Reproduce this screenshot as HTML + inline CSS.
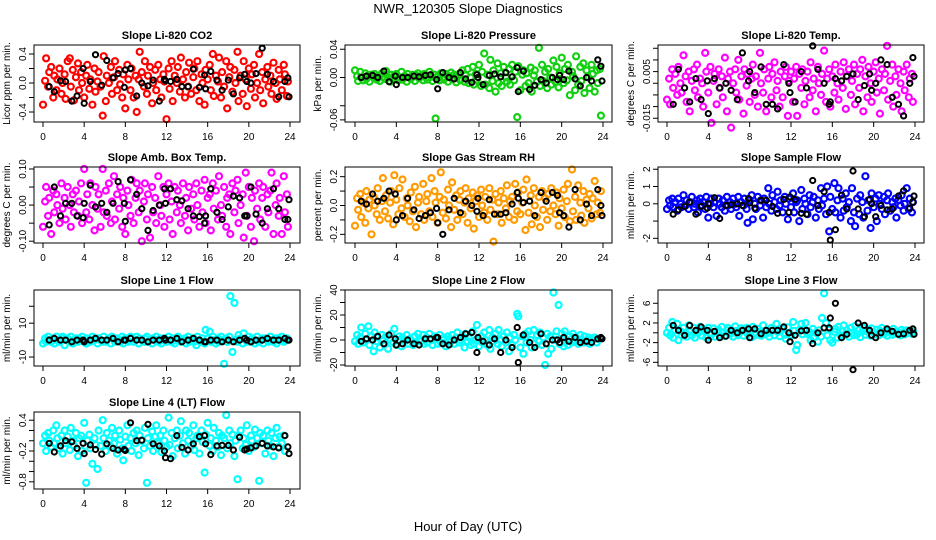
<!DOCTYPE html>
<html><head><meta charset="utf-8"><style>
body{margin:0;background:#fff;}
svg{display:block;font-family:"Liberation Sans",sans-serif;}
</style></head><body>
<svg id="c" width="936" height="540" viewBox="0 0 936 540">
<text x="468" y="13" text-anchor="middle" font-size="13">NWR_120305  Slope Diagnostics</text>
<text x="468" y="531" text-anchor="middle" font-size="13">Hour of Day (UTC)</text>
</svg>
<script>
const hours=[0.0,0.2,0.3,0.5,0.6,0.8,1.0,1.1,1.3,1.4,1.6,1.8,1.9,2.1,2.2,2.4,2.6,2.7,2.9,3.0,3.2,3.4,3.5,3.7,3.8,4.0,4.2,4.3,4.5,4.6,4.8,5.0,5.1,5.3,5.4,5.6,5.8,5.9,6.1,6.2,6.4,6.6,6.7,6.9,7.0,7.2,7.4,7.5,7.7,7.8,8.0,8.2,8.3,8.5,8.6,8.8,9.0,9.1,9.3,9.4,9.6,9.8,9.9,10.1,10.2,10.4,10.6,10.7,10.9,11.0,11.2,11.4,11.5,11.7,11.8,12.0,12.2,12.3,12.5,12.6,12.8,13.0,13.1,13.3,13.4,13.6,13.8,13.9,14.1,14.2,14.4,14.6,14.7,14.9,15.0,15.2,15.4,15.5,15.7,15.8,16.0,16.2,16.3,16.5,16.6,16.8,17.0,17.1,17.3,17.4,17.6,17.8,17.9,18.1,18.2,18.4,18.6,18.7,18.9,19.0,19.2,19.4,19.5,19.7,19.8,20.0,20.2,20.3,20.5,20.6,20.8,21.0,21.1,21.3,21.4,21.6,21.8,21.9,22.1,22.2,22.4,22.6,22.7,22.9,23.0,23.2,23.4,23.5,23.7,23.8];
const refHours=[0.6,1.1,1.7,2.2,2.8,3.3,3.9,4.0,4.6,5.1,5.7,6.2,6.8,7.3,7.9,8.0,8.5,9.1,9.6,10.2,10.7,11.3,11.8,11.9,12.4,13.0,13.5,14.1,14.6,15.2,15.7,15.8,16.3,16.9,17.4,18.0,18.5,19.1,19.6,19.8,20.2,20.7,21.3,21.8,22.4,22.9,23.5,23.8,23.9];
const xTicks=[0,4,8,12,16,20,24];

const co2=[-0.3,0.03,0.34,-0.05,0.15,0.22,-0.2,0.1,-0.1,0.05,0.2,-0.15,0.0,0.12,-0.22,0.3,0.34,-0.05,0.18,-0.24,0.08,0.27,-0.1,0.15,0.0,-0.2,0.1,0.25,-0.08,0.05,-0.3,0.2,-0.12,0.02,0.15,-0.05,-0.45,0.37,-0.25,0.1,0.0,0.22,-0.15,0.08,0.3,-0.1,0.18,-0.02,-0.2,0.12,-0.35,0.25,0.05,-0.1,0.2,-0.2,0.1,-0.4,0.05,0.43,0.15,-0.05,0.3,-0.15,0.1,0.22,-0.28,0.0,0.18,-0.1,0.25,0.05,-0.2,0.12,0.02,-0.5,0.2,-0.08,0.3,-0.25,0.1,0.0,0.22,-0.12,0.35,0.05,-0.2,0.15,-0.05,0.28,-0.15,0.08,0.2,-0.1,0.3,-0.25,0.12,0.0,-0.3,0.18,0.05,0.25,-0.1,0.4,-0.18,0.1,0.02,0.35,-0.2,0.15,-0.05,0.3,-0.35,0.08,0.22,-0.12,0.18,0.0,0.43,-0.25,0.1,-0.15,0.3,0.05,-0.32,0.2,-0.08,0.12,0.25,-0.2,0.0,0.4,-0.1,0.15,-0.28,0.05,0.22,-0.05,0.1,-0.15,0.28,0.0,-0.22,0.18,0.05,-0.1,0.25,0.12,-0.18,0.02];
const co2Ref=[-0.05,-0.12,0.03,0.02,-0.25,-0.18,0.2,-0.28,0.02,0.39,-0.03,0.31,0.07,0.13,-0.06,0.18,0.2,-0.18,0.0,-0.04,0.04,-0.25,0.05,0.03,0.02,0.05,-0.05,-0.05,0.19,-0.06,0.11,-0.08,0.16,0.04,-0.1,0.04,-0.15,0.07,0.12,0.02,0.0,0.13,0.48,0.12,0.02,-0.19,0.02,0.07,-0.19];
const pres=[0.01,0.002,-0.005,0.008,0.0,-0.004,0.006,-0.002,0.003,-0.006,0.004,0.0,0.005,-0.003,0.002,-0.005,0.006,0.001,-0.002,0.009,0.0,-0.006,0.004,-0.002,0.003,0.005,-0.004,0.0,0.008,-0.003,0.002,-0.006,0.005,0.0,-0.002,0.004,-0.005,0.003,0.006,-0.001,0.002,-0.004,0.005,0.0,-0.003,0.008,0.001,-0.005,0.004,-0.058,0.002,-0.004,0.006,0.0,-0.003,0.005,-0.006,0.002,0.007,-0.002,0.004,-0.007,0.001,0.005,-0.004,0.01,-0.006,0.003,0.012,-0.008,0.0,0.015,-0.01,0.005,-0.003,0.018,-0.012,0.008,0.034,-0.01,0.004,-0.015,0.025,-0.005,0.01,-0.02,0.02,-0.008,0.006,-0.012,0.015,0.0,-0.006,0.012,-0.01,0.018,-0.004,0.008,-0.056,0.016,-0.018,0.004,0.01,-0.012,0.006,-0.008,0.014,-0.02,0.003,0.01,-0.006,0.042,-0.012,0.018,-0.005,0.008,-0.015,0.012,0.0,-0.01,0.024,-0.006,0.015,-0.014,0.006,0.028,-0.008,0.012,-0.004,0.018,-0.025,0.008,0.002,-0.018,0.03,-0.01,0.015,-0.005,0.02,-0.022,0.01,0.0,-0.015,0.018,0.005,-0.02,0.01,-0.008,0.012,-0.054];
const presRef=[0.0,0.002,0.003,0.0,0.009,-0.006,0.002,-0.01,0.0,0.0,0.002,0.001,0.003,0.004,-0.003,-0.016,0.007,0.0,-0.002,0.007,-0.002,-0.007,0.004,0.0,-0.01,0.003,0.005,0.001,0.007,0.001,0.014,-0.02,0.009,-0.017,-0.011,-0.003,-0.008,0.0,-0.003,0.003,-0.003,0.009,-0.002,-0.012,0.0,-0.005,0.025,0.016,-0.005];
const temp=[-0.007,0.002,-0.009,0.006,-0.002,0.004,-0.005,0.007,0.0,-0.004,0.012,0.003,-0.008,0.005,-0.012,0.001,0.006,-0.003,0.008,-0.006,0.002,0.0,-0.01,0.013,0.005,-0.004,0.007,-0.017,0.001,0.004,-0.009,0.006,-0.002,0.003,-0.006,0.011,-0.012,0.002,0.005,-0.019,0.0,0.006,-0.004,0.01,-0.007,0.003,-0.013,0.006,-0.001,0.004,-0.008,0.002,0.008,-0.005,0.003,-0.01,0.013,0.0,-0.004,0.006,-0.012,0.002,0.007,-0.006,0.004,0.009,-0.003,0.001,-0.01,0.005,-0.006,0.003,0.007,-0.014,0.001,0.005,-0.008,0.002,0.007,-0.014,0.004,-0.002,0.006,-0.009,0.001,0.005,-0.006,0.009,-0.003,0.002,-0.012,0.007,0.0,-0.005,0.004,0.014,-0.008,0.002,0.006,-0.01,0.003,-0.004,0.008,0.0,-0.007,0.005,-0.002,0.009,-0.011,0.003,0.006,-0.005,0.001,0.008,-0.009,0.004,-0.002,0.006,0.01,-0.012,0.003,-0.006,0.007,0.0,-0.008,0.005,0.009,-0.004,0.002,-0.013,0.006,-0.003,0.004,0.016,-0.007,0.001,0.008,-0.01,0.003,-0.005,0.006,0.0,-0.012,0.005,-0.003,0.008,-0.006,0.002,0.004,-0.008];
const tempRef=[-0.009,0.006,-0.002,-0.008,0.002,-0.007,0.001,-0.013,0.002,-0.002,0.0,-0.003,-0.007,0.013,0.001,0.005,-0.004,0.007,-0.009,-0.009,-0.011,0.008,0.0,-0.004,-0.008,0.005,-0.002,0.016,0.006,0.0,-0.009,-0.008,0.002,0.001,0.003,0.004,-0.007,-0.001,0.004,-0.003,0.0,0.01,0.008,-0.006,-0.009,-0.014,0.0,0.011,0.003];
const amb=[-0.06,0.01,0.05,-0.03,0.02,-0.08,0.04,-0.02,0.03,0.0,-0.05,0.06,-0.01,0.02,-0.04,0.05,0.0,-0.06,0.03,-0.02,0.04,-0.03,0.01,0.06,-0.05,0.1,-0.02,0.03,-0.04,0.06,0.0,-0.07,0.05,-0.01,0.03,-0.06,0.1,-0.02,0.04,-0.03,0.06,-0.05,0.01,0.08,-0.04,0.03,-0.01,0.05,-0.06,0.02,-0.08,0.04,0.0,-0.03,0.07,-0.05,0.02,0.06,-0.02,0.04,-0.1,0.01,0.06,-0.04,0.03,-0.09,0.05,-0.02,0.02,-0.05,0.08,0.0,-0.03,0.05,-0.06,0.03,0.06,-0.04,0.01,-0.08,0.05,-0.02,0.04,0.0,-0.05,0.06,-0.03,0.02,-0.07,0.05,-0.01,0.03,-0.04,0.06,0.0,-0.06,0.04,-0.02,0.07,-0.05,0.02,0.03,-0.07,0.06,-0.01,0.04,-0.04,0.08,0.0,-0.03,0.05,-0.06,0.02,0.03,-0.08,0.06,-0.02,0.04,0.07,-0.05,0.0,0.03,-0.09,0.09,-0.03,0.05,-0.06,0.02,-0.1,0.04,-0.01,0.06,-0.04,0.02,0.05,-0.06,0.03,-0.02,0.04,0.09,-0.08,0.0,0.06,-0.03,0.02,-0.08,0.08,-0.02,0.03,-0.06];
const ambRef=[-0.055,0.05,-0.03,0.005,0.005,-0.03,-0.035,0.005,0.055,-0.005,0.005,-0.02,0.005,0.065,0.005,-0.045,0.07,0.03,-0.01,-0.07,-0.015,0.0,0.045,0.005,0.045,0.015,0.012,-0.01,-0.03,-0.032,-0.05,-0.03,0.045,-0.02,-0.04,-0.005,0.025,0.02,-0.03,-0.03,0.05,-0.025,-0.05,-0.01,0.045,-0.01,-0.04,-0.04,0.015];
const rh=[-0.14,0.05,-0.03,0.08,-0.08,0.02,-0.12,0.1,-0.02,0.04,-0.2,0.06,0.0,-0.06,0.12,-0.1,0.03,0.19,-0.04,0.07,-0.09,0.02,0.1,-0.13,0.21,0.04,-0.06,0.12,-0.02,0.18,-0.08,0.05,0.0,-0.11,0.09,-0.04,0.13,-0.15,0.02,0.06,-0.06,0.15,-0.1,0.03,0.08,-0.04,0.19,-0.08,0.1,0.02,-0.12,0.06,0.23,-0.05,0.04,-0.09,0.11,0.0,-0.15,0.16,-0.03,0.07,-0.1,0.04,0.1,-0.06,0.02,0.12,-0.12,0.05,-0.02,0.09,-0.16,0.03,0.07,-0.08,0.11,0.0,-0.05,0.06,-0.1,0.12,-0.03,0.04,-0.25,0.08,-0.06,0.02,0.1,-0.12,0.05,-0.02,0.14,-0.08,0.03,0.06,-0.1,0.15,-0.04,0.09,-0.06,0.02,0.11,-0.17,0.18,-0.05,0.07,-0.13,0.12,0.0,-0.08,0.06,-0.15,0.1,-0.03,0.05,-0.1,0.08,-0.04,0.12,0.0,-0.06,0.09,-0.14,0.05,-0.02,0.11,-0.08,0.03,0.15,-0.11,0.25,-0.04,0.06,-0.1,0.14,0.02,-0.07,0.1,-0.12,0.04,-0.02,0.08,-0.09,0.05,0.17,-0.06,0.02,-0.05,0.1];
const rhRef=[0.03,0.01,0.08,0.03,0.05,0.1,0.08,-0.1,-0.07,0.05,-0.03,-0.09,-0.07,-0.05,-0.02,-0.12,-0.2,-0.03,0.05,-0.05,0.03,0.0,-0.04,0.05,-0.07,0.04,-0.06,-0.06,-0.05,0.01,0.09,0.05,0.02,0.03,-0.07,0.09,0.03,0.09,0.07,-0.05,-0.07,-0.15,0.11,-0.1,0.01,-0.07,0.11,0.0,-0.07];
const samp=[-0.3,0.2,-0.1,0.3,-0.2,0.1,-0.4,0.3,0.0,-0.2,0.5,-0.1,0.2,-0.3,0.1,0.4,-0.2,0.0,0.2,-0.5,0.3,-0.1,0.1,-0.3,0.4,-0.8,0.0,0.3,-0.2,0.1,-0.7,0.3,0.0,-0.2,0.2,-0.4,0.4,-0.1,0.1,-0.3,0.3,0.0,-0.2,0.4,-0.7,0.1,-0.1,0.3,-0.3,-1.1,0.2,0.5,-0.9,0.0,-0.3,0.4,-0.1,0.2,-0.8,0.3,-0.2,0.9,0.0,-0.4,0.5,0.1,-0.3,0.7,-0.1,0.2,-0.5,0.4,0.0,-0.9,0.3,-0.2,0.6,-0.5,0.1,0.2,-1.0,0.8,-0.3,0.3,0.0,-0.6,0.5,-0.2,0.1,0.4,-0.8,0.2,-0.3,0.9,-0.1,0.3,-0.6,1.0,-1.6,0.4,-0.3,1.2,-0.5,0.2,0.9,-0.8,0.3,-0.4,0.6,-0.2,0.1,-1.0,0.9,-0.5,-1.3,0.3,-0.6,0.5,0.1,-0.8,1.6,-0.4,0.2,-1.4,0.6,-0.2,0.3,-1.0,0.5,0.0,-0.3,0.4,-0.6,0.2,0.6,-0.4,0.1,-0.2,0.3,-0.8,0.2,-0.1,0.5,-0.4,0.0,0.9,-0.3,0.3,-0.5,0.1,0.6,-0.2];
const sampRef=[-0.6,-0.35,-0.15,0.1,-0.6,-0.15,-0.25,0.0,0.35,-0.85,-0.1,-0.05,0.0,-0.1,0.3,0.05,-0.25,0.2,0.2,-0.15,-0.55,0.25,-0.5,0.4,0.25,-0.55,-0.6,1.35,-0.1,0.7,-0.5,-2.1,-1.5,0.5,-0.3,1.9,-0.3,-0.75,0.25,0.0,-0.75,-0.1,-0.35,-0.3,0.45,0.75,-0.25,0.1,0.45];
const l1=[-2,1,-1,2,0,-1,1,-2,2,0,-1,1,2,-3,0,1,-1,2,-2,0,1,-1,1,0,2,-1,-2,1,0,-1,2,0,1,-2,1,0,-1,2,-1,0,1,-2,2,0,-1,1,0,-1,2,-2,1,0,-1,2,1,-1,0,2,-2,1,0,-1,1,2,-1,0,-2,1,0,2,-1,1,-2,0,1,-1,2,0,-1,1,-2,0,2,1,-1,0,1,-2,2,-1,0,1,-1,-3,2,0,-1,1,-2,6,1,5,-1,2,0,-2,1,-1,2,0,-14,1,-1,2,26,-7,22,0,-1,3,1,-2,4,0,-1,2,-1,1,0,-2,2,-1,0,1,-2,1,0,-1,2,0,-1,1,-2,1,0,2,-1,0,1];
const l1Ref=[0,1,0,0,-1,0,0,-1,0,1,0,0,1,-1,0,0,1,0,0,-1,0,0,1,0,0,1,-1,0,1,0,-1,-1,0,0,-1,0,-1,0,1,0,-1,0,0,1,0,0,1,0,0];
const l2=[-1,4,-3,2,10,-2,5,0,11,-4,3,-9,6,-1,2,-6,4,0,-3,3,-7,1,5,-2,9,-4,0,3,-5,2,-1,4,-3,1,0,-4,3,-2,5,0,-1,4,-3,2,-2,5,0,-4,3,1,-3,4,-2,0,2,-5,3,0,-1,4,-3,2,6,-2,0,3,-6,5,-1,2,-4,7,-3,0,12,-5,3,-2,6,0,-4,8,-7,2,-1,5,-3,8,0,-5,3,-2,6,-9,2,-4,4,0,21,19,-6,3,-11,5,-2,7,0,-6,8,-3,4,-1,6,-4,2,-20,5,-11,3,-7,38,0,7,28,-3,5,-5,7,0,-4,3,-2,5,-1,2,-3,4,0,-2,3,-1,2,-3,1,0,2,-2,1];
const l2Ref=[-1,1,0,3,-3,4,1,-4,-3,0,-3,-4,1,1,2,2,-3,-4,0,2,5,6,-10,2,-1,-4,1,-10,0,-6,10,-18,4,-2,-6,5,-3,0,0,-2,2,-1,2,-2,-1,-2,1,2,1];
const l3=[0,1,-0.5,2.2,-1,0.5,1.8,-1.5,0.3,-0.5,1,0,-0.8,1.5,0.2,-0.5,1,-1,0.5,0,1.2,-0.6,0.8,0.2,-1,1,0,-0.4,0.9,-0.8,0.3,0.6,-0.5,1.2,0,-0.7,0.5,1,-0.3,0.2,-0.8,1.3,0.4,-0.5,0,0.9,-0.6,0.5,1,-0.2,0.3,-0.9,1.2,0,-0.4,0.8,0.2,-0.6,1.5,-0.3,0.4,0,-0.8,1,0.5,-0.5,1.8,0.2,-0.7,0.3,0.9,-0.4,-1.2,1.1,0,-0.5,2.2,0.4,-3.5,-2.5,0.6,1.8,-0.3,0.5,2,-0.2,0.1,-1.5,0.8,-1,0,-1.8,0.5,-0.8,3,8,2,-0.5,0.6,-1.5,-2,0.2,0.8,-1,1.2,-0.6,0.3,1.5,-0.2,0.5,-0.8,1,0,-0.5,1.4,-0.3,0.6,-0.9,0.3,1,-0.4,0.2,0.7,-0.6,0.9,0,-0.3,0.6,-0.5,0.4,1,-0.2,0.3,-0.6,0.5,0.1,-0.4,0.8,-0.2,0.3,0,-0.5,0.6,0.2,-0.3,0.5,0,0.4,-0.2,0.3];
const l3Ref=[1.5,0.5,-0.5,1.5,0.5,1.2,0.5,-1.5,0.3,-1,-0.7,0.5,0,0.5,0.8,-1,0.8,-0.2,0.5,0.5,0.5,1.2,0,-1.8,-0.5,0.4,0.5,-2.2,0,1,1,3,6,-1,-0.3,-7.5,2,1.5,0.5,-0.5,-1,0,0.8,0.3,-0.3,-0.2,0.5,0.8,-0.3];
const l4=[-0.05,0.1,-0.2,0.15,0.0,-0.12,0.2,-0.05,0.3,0.05,-0.15,0.1,-0.25,0.2,-0.05,0.08,-0.18,0.25,0.0,-0.1,0.15,-0.3,0.05,0.1,-0.2,0.35,-0.82,0.0,0.12,-0.15,-0.45,0.05,-0.08,-0.55,0.2,-0.1,0.4,0.05,-0.2,0.15,0.0,-0.12,0.25,-0.05,0.1,-0.25,0.2,0.02,-0.15,-0.38,0.08,0.3,-0.1,0.05,-0.2,0.15,-0.05,0.2,-0.28,0.1,0.0,-0.15,0.25,-0.82,0.05,-0.1,0.18,-0.2,0.08,0.3,-0.05,0.1,-0.22,0.2,0.0,-0.12,0.45,-0.08,0.15,-0.3,0.05,0.2,-0.15,0.1,0.38,-0.05,-0.25,0.2,0.0,0.15,-0.1,0.3,-0.18,0.05,0.1,-0.25,0.2,-0.02,-0.62,0.12,0.35,-0.1,0.05,-0.2,0.25,0.0,-0.12,0.15,-0.28,0.1,0.05,0.5,-0.15,0.2,-0.05,0.12,-0.3,0.0,-0.75,0.1,0.2,-0.15,0.05,-0.08,0.3,-0.2,0.1,0.0,-0.12,0.22,0.05,-0.78,0.15,-0.05,0.1,-0.25,0.2,0.0,-0.1,0.15,-0.3,0.05,0.25,-0.12,0.08,-0.05,0.1,-0.2];
const l4Ref=[-0.05,-0.22,-0.1,0.0,-0.02,-0.15,-0.05,-0.25,-0.08,-0.17,-0.26,-0.06,-0.15,-0.18,-0.17,-0.19,0.35,0.0,0.01,0.32,-0.06,-0.1,-0.2,-0.33,-0.35,0.1,-0.13,-0.18,-0.06,0.08,0.1,-0.06,-0.27,-0.1,-0.09,-0.09,-0.18,0.07,-0.18,-0.16,-0.14,-0.1,-0.05,-0.1,-0.12,-0.14,0.1,-0.12,-0.25];

const titles=["Slope Li-820 CO2","Slope Li-820 Pressure","Slope Li-820 Temp.","Slope Amb. Box Temp.","Slope Gas Stream RH","Slope Sample Flow","Slope Line 1 Flow","Slope Line 2 Flow","Slope Line 3 Flow","Slope Line 4 (LT) Flow"];
const yTitles=["Licor ppm per min.","kPa per min.","degrees C per min.","degrees C per min.","percent per min.","ml/min per min.","ml/min per min.","ml/min per min.","ml/min per min.","ml/min per min."];
const series=[co2,pres,temp,amb,rh,samp,l1,l2,l3,l4];
const refSeries=[co2Ref,presRef,tempRef,ambRef,rhRef,sampRef,l1Ref,l2Ref,l3Ref,l4Ref];
const yTicks=[[-0.4,-0.2,0,0.2,0.4],[-0.06,-0.04,0,0.04],[-0.015,-0.01,-0.005,0,0.005,0.01,0.015],[-0.1,-0.05,0,0.05,0.1],[-0.2,-0.1,0,0.1,0.2],[-2,-1,0,1,2],[-10,0,10,20],[-20,-10,0,10,20,30,40],[-6,-4,-2,0,2,4,6],[-0.8,-0.6,-0.4,-0.2,0,0.2,0.4]];
const yTickLabels=[["-0.4","","0.0","","0.4"],["-0.06","","0.00","0.04"],["-0.015","","","","0.005","",""],["-0.10","","0.00","","0.10"],["-0.2","","0.0","","0.2"],["-2","","0","1","2"],["-10","","10",""],["-20","","0","","20","","40"],["-6","","-2","","2","","6"],["-0.8","","","-0.2","","","0.4"]];
const yLims=[[-0.538,0.524],[-0.063,0.046],[-0.0166,0.0164],[-0.105,0.1055],[-0.26,0.267],[-2.27,2.13],[-15.3,29.6],[-20.8,40],[-6.75,8.7],[-0.94,0.56]];
const colors=["#ff0000","#10d010","#ff00ff","#ff00ff","#ff9a00","#0000ff","#00ffff","#00ffff","#00ffff","#00ffff"];

const NS="http://www.w3.org/2000/svg";
const svg=document.getElementById('c');
const colX=[[34,300,43,290],[345,612,355,603],[658,924,667,915]];
const rowY=[[45,122],[167,243],[290,366],[412,489]];
function mk(tag,attrs,parent){const e=document.createElementNS(NS,tag);for(const k in attrs)e.setAttribute(k,attrs[k]);(parent||svg).appendChild(e);return e;}

series.forEach((vals,i)=>{
  const c=colX[i%3], r=rowY[Math.floor(i/3)];
  const [bl,br,x0,x24]=c,[bt,bb]=r;
  const [ymin,ymax]=yLims[i];
  const sx=h=>x0+(x24-x0)*h/24;
  const sy=v=>bb-(v-ymin)/(ymax-ymin)*(bb-bt);
  const g=mk('g',{});
  
  
  const t=mk('text',{x:(bl+br)/2,y:bt-6,'text-anchor':'middle','font-size':11,'font-weight':'bold'},g);
  t.textContent=titles[i];
  
  
  const yt=mk('text',{x:0,y:0,'text-anchor':'middle','font-size':10,transform:`translate(${bl-24},${(bt+bb)/2}) rotate(-90)`},g);
  yt.textContent=yTitles[i];
  
  
  const pg=mk('g',{fill:'none',stroke:colors[i],'stroke-width':2.2},g);
  
  
  const n=Math.min(hours.length,vals.length);
  for(let k=0;k<n;k++){
    const p=mk('circle',{cx:sx(hours[k]).toFixed(1),cy:sy(vals[k]).toFixed(1),r:3.0},pg);
    
    
  }
  const rg=mk('g',{fill:'none',stroke:'#000','stroke-width':2},g);
  
  
  const rv=refSeries[i], m=Math.min(refHours.length,rv.length);
  for(let k=0;k<m;k++){
    const p=mk('circle',{cx:sx(refHours[k]).toFixed(1),cy:sy(rv[k]).toFixed(1),r:2.6},rg);
    
    
  }
  const b=mk('rect',{x:bl,y:bt,width:br-bl,height:bb-bt,fill:'none',stroke:'#000','stroke-width':1},g);
  
  
  const xa=mk('g',{},g);
  
  
  mk('line',{x1:sx(xTicks[0]),x2:sx(xTicks[xTicks.length-1]),y1:bb,y2:bb,stroke:'#000'},xa);
  xTicks.forEach(h=>{
    mk('line',{x1:sx(h),x2:sx(h),y1:bb,y2:bb+5,stroke:'#000'},xa);
    const l=mk('text',{x:sx(h),y:bb+18,'text-anchor':'middle','font-size':10},xa);
    l.textContent=h;
    
    
  });
  const ya=mk('g',{},g);
  
  
  const tk=yTicks[i];
  tk.forEach((v,j)=>{
    mk('line',{x1:bl-5,x2:bl,y1:sy(v),y2:sy(v),stroke:'#000'},ya);
    const s=yTickLabels[i][j];
    if(s){
      const l=mk('text',{x:0,y:0,'text-anchor':'middle','font-size':10,transform:`translate(${bl-8},${sy(v)}) rotate(-90)`},ya);
      l.textContent=s;
      
      
    }
  });
});
</script>
</body></html>
